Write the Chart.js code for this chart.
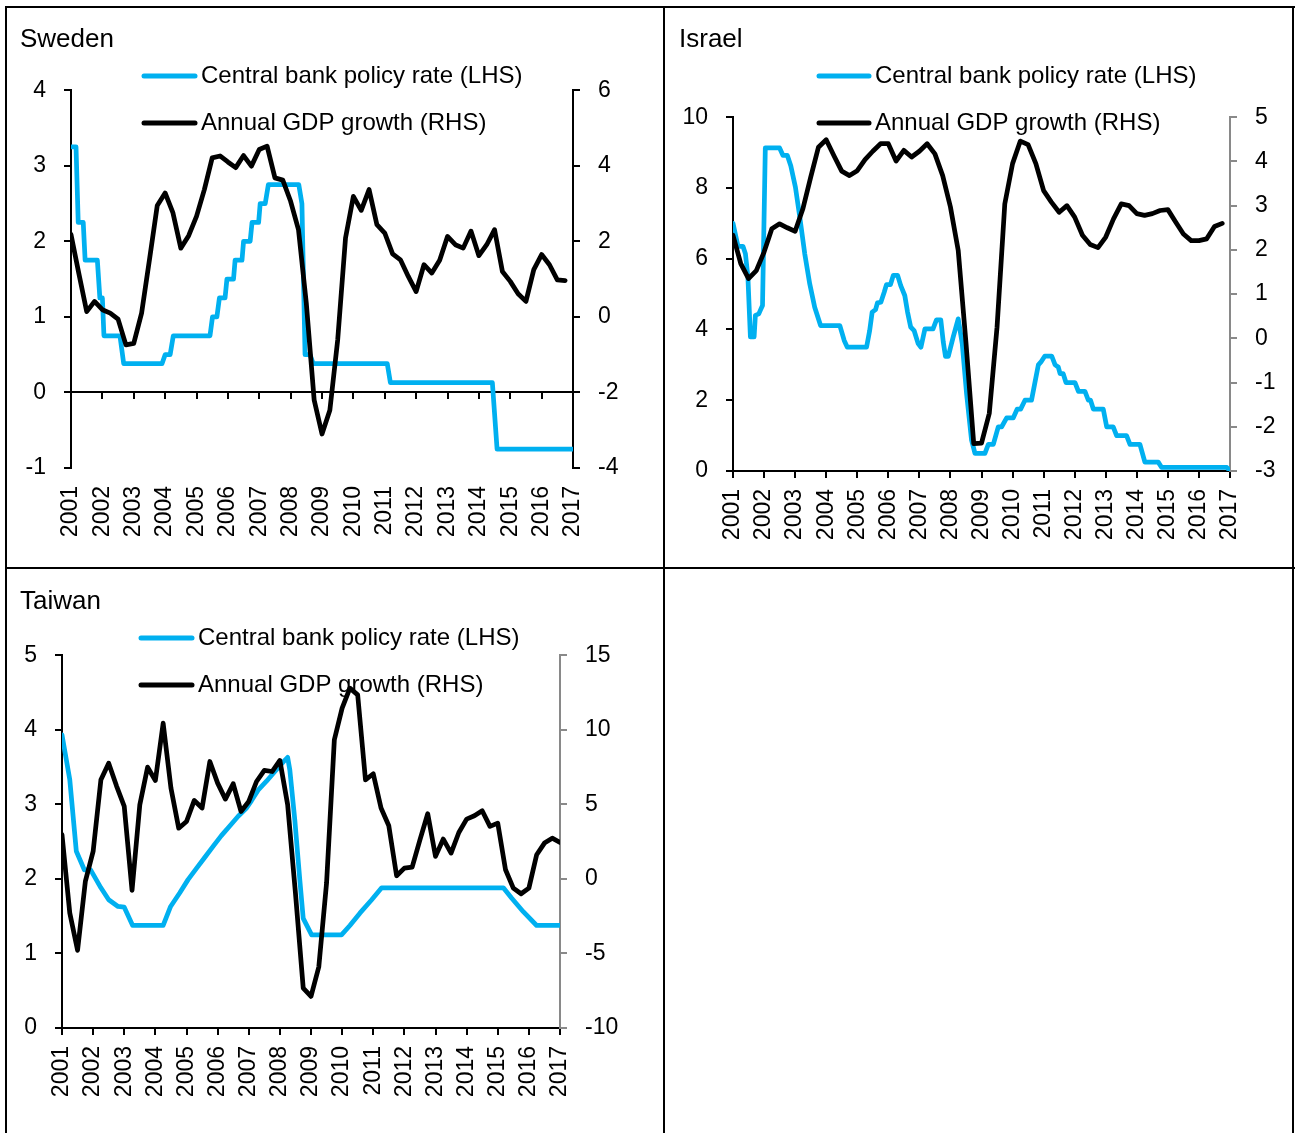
<!DOCTYPE html>
<html>
<head>
<meta charset="utf-8">
<script src="https://cdn.jsdelivr.net/npm/chart.js@4/dist/chart.umd.min.js"></script>
<style>
  body { margin: 0; background: #fff; width: 1295px; height: 1133px; overflow: hidden; position: relative; }
  .ln { position: absolute; background: #000; }
  canvas { position: absolute; }
</style>
</head>
<body>
<div class="ln" style="left:5px;top:6px;width:1290px;height:2px"></div>
<div class="ln" style="left:5px;top:6px;width:2px;height:1127px"></div>
<div class="ln" style="left:663px;top:6px;width:2px;height:1127px"></div>
<div class="ln" style="left:1292px;top:6px;width:2px;height:1127px"></div>
<div class="ln" style="left:5px;top:567px;width:1290px;height:2px"></div>

<canvas id="sweden" width="656" height="559" style="left:7px;top:8px"></canvas>
<canvas id="israel" width="627" height="559" style="left:665px;top:8px"></canvas>
<canvas id="taiwan" width="656" height="564" style="left:7px;top:569px"></canvas>

<script>
const FONT = '"Liberation Sans", Arial, sans-serif';
const BLUE = '#00b0f0';

const seriesNames = ['Central bank policy rate (LHS)', 'Annual GDP growth (RHS)'];

// Sweden - policy rate (break points) and quarterly GDP growth from 2001Q1
const seRateT = [2001.0, 2001.16, 2001.23, 2001.39, 2001.45, 2001.84, 2001.92, 2002.0, 2002.05, 2002.56,
  2002.68, 2003.9, 2004.0, 2004.16, 2004.26, 2005.43, 2005.51, 2005.65, 2005.73, 2005.91,
  2005.97, 2006.18, 2006.23, 2006.45, 2006.5, 2006.71, 2006.77, 2006.98, 2007.03, 2007.19,
  2007.29, 2008.26, 2008.36, 2008.46, 2008.62, 2008.72, 2011.08, 2011.18, 2014.43, 2014.58, 2017.0];
const seRateV = [3.25, 3.25, 2.25, 2.25, 1.75, 1.75, 1.25, 1.25, 0.75, 0.75,
  0.38, 0.38, 0.5, 0.5, 0.75, 0.75, 1.0, 1.0, 1.25, 1.25,
  1.5, 1.5, 1.75, 1.75, 2.0, 2.0, 2.25, 2.25, 2.5, 2.5,
  2.75, 2.75, 2.5, 0.5, 0.5, 0.38, 0.38, 0.13, 0.13, -0.75, -0.75];
const seGdp = [2.18, 1.15, 0.14, 0.41, 0.19, 0.10, -0.06, -0.74,
  -0.70, 0.10, 1.51, 2.95, 3.28, 2.75, 1.82, 2.15,
  2.66, 3.37, 4.21, 4.26, 4.10, 3.95, 4.27, 3.99,
  4.43, 4.52, 3.68, 3.62, 3.06, 2.31, 0.36, -2.2,
  -3.1, -2.47, -0.61, 2.09, 3.19, 2.82, 3.37, 2.44,
  2.22, 1.67, 1.51, 1.07, 0.67, 1.38, 1.16, 1.50,
  2.13, 1.91, 1.82, 2.27, 1.62, 1.91, 2.31, 1.20,
  0.94, 0.61, 0.41, 1.25, 1.65, 1.38, 0.98, 0.96];

// Israel
const ilRateT = [2001.0, 2001.16, 2001.32, 2001.40, 2001.48, 2001.56, 2001.68, 2001.72, 2001.83, 2001.89,
  2001.95, 2002.04, 2002.5, 2002.61, 2002.75, 2002.86, 2003.01, 2003.15, 2003.31, 2003.47,
  2003.63, 2003.82, 2004.44, 2004.58, 2004.68, 2005.30, 2005.40, 2005.48, 2005.59, 2005.65,
  2005.76, 2005.87, 2005.94, 2006.07, 2006.16, 2006.30, 2006.40, 2006.53, 2006.62, 2006.72,
  2006.83, 2006.96, 2007.05, 2007.18, 2007.44, 2007.55, 2007.69, 2007.77, 2007.84, 2007.93,
  2008.09, 2008.25, 2008.38, 2008.52, 2008.68, 2008.79, 2009.11, 2009.22, 2009.38, 2009.54,
  2009.65, 2009.81, 2010.02, 2010.15, 2010.26, 2010.40, 2010.61, 2010.72, 2010.83, 2010.93,
  2011.04, 2011.26, 2011.37, 2011.47, 2011.53, 2011.63, 2011.72, 2012.01, 2012.12, 2012.33,
  2012.44, 2012.51, 2012.6, 2012.92, 2013.03, 2013.24, 2013.35, 2013.67, 2013.78, 2014.1,
  2014.26, 2014.69, 2014.8, 2016.9, 2017.0];
const ilRateV = [7.0, 6.35, 6.35, 6.14, 5.48, 3.79, 3.79, 4.4, 4.44, 4.56,
  4.68, 9.13, 9.13, 8.92, 8.92, 8.63, 8.02, 7.18, 6.14, 5.29,
  4.63, 4.11, 4.11, 3.69, 3.5, 3.5, 3.97, 4.49, 4.56, 4.75,
  4.77, 5.06, 5.27, 5.27, 5.53, 5.53, 5.24, 4.96, 4.49, 4.07,
  3.97, 3.6, 3.5, 4.02, 4.02, 4.27, 4.27, 3.64, 3.24, 3.24,
  3.79, 4.3, 3.6, 2.18, 0.87, 0.5, 0.5, 0.75, 0.75, 1.25,
  1.25, 1.5, 1.5, 1.75, 1.75, 2.0, 2.0, 2.5, 3.0, 3.1,
  3.25, 3.25, 3.0, 2.94, 2.75, 2.75, 2.5, 2.5, 2.25, 2.25,
  2.0, 2.0, 1.75, 1.75, 1.25, 1.25, 1.0, 1.0, 0.75, 0.75,
  0.25, 0.25, 0.1, 0.1, 0.0];
const ilGdp = [2.33, 1.69, 1.35, 1.53, 1.95, 2.48, 2.59, 2.50,
  2.42, 2.93, 3.64, 4.32, 4.49, 4.13, 3.78, 3.68,
  3.79, 4.04, 4.23, 4.40, 4.40, 4.01, 4.25, 4.10,
  4.23, 4.40, 4.17, 3.68, 2.97, 1.99, -0.1, -2.38,
  -2.37, -1.70, 0.25, 3.04, 3.95, 4.46, 4.38, 3.95,
  3.34, 3.08, 2.85, 3.0, 2.74, 2.33, 2.12, 2.05,
  2.29, 2.70, 3.04, 3.0, 2.82, 2.78, 2.82, 2.89,
  2.91, 2.63, 2.36, 2.21, 2.21, 2.25, 2.53, 2.60];

// Taiwan
const twRateT = [2001.0, 2001.25, 2001.46, 2001.72, 2001.92, 2002.25, 2002.5, 2002.8, 2003.0, 2003.27,
  2004.25, 2004.49, 2004.78, 2005.05, 2005.32, 2005.59, 2005.86, 2006.12, 2006.39, 2006.66,
  2006.93, 2007.09, 2007.3, 2007.57, 2007.84, 2008.11, 2008.25, 2008.32, 2008.48, 2008.64,
  2008.75, 2009.02, 2009.98, 2010.25, 2010.57, 2010.95, 2011.27, 2015.18, 2015.45, 2015.82,
  2016.25, 2017.0];
const twRateV = [3.93, 3.33, 2.37, 2.12, 2.12, 1.88, 1.72, 1.63, 1.62, 1.375,
  1.375, 1.63, 1.81, 1.99, 2.14, 2.29, 2.44, 2.58, 2.71, 2.84,
  2.95, 3.05, 3.19, 3.31, 3.44, 3.57, 3.63, 3.46, 2.79, 1.99,
  1.47, 1.25, 1.25, 1.375, 1.54, 1.72, 1.88, 1.88, 1.74, 1.56,
  1.375, 1.375];
const twGdp = [2.96, -2.29, -4.79, -0.17, 1.84, 6.64, 7.76, 6.24,
  4.86, -0.77, 4.97, 7.49, 6.6, 10.44, 6.09, 3.40,
  3.85, 5.26, 4.75, 7.87, 6.42, 5.35, 6.38, 4.52,
  5.19, 6.53, 7.27, 7.2, 7.94, 4.97, -0.95, -7.32,
  -7.88, -5.91, -0.28, 9.33, 11.45, 12.79, 12.34, 6.64,
  7.05, 4.75, 3.56, 0.21, 0.72, 0.79, 2.62, 4.37,
  1.51, 2.67, 1.73, 3.11, 4.01, 4.23, 4.57, 3.52,
  3.74, 0.61, -0.62, -1.0, -0.62, 1.62, 2.40, 2.73,
  2.44];

Chart.defaults.color = '#000';
Chart.defaults.font.family = FONT;

// x-axis crossing at zero (Sweden only)
const zeroAxis = {
  id: 'zeroAxis',
  beforeDatasetsDraw(chart, args, opts) {
    if (!opts.show) return;
    const { ctx, chartArea, scales } = chart;
    const y0 = Math.round(scales.y.getPixelForValue(0));
    ctx.save();
    ctx.strokeStyle = '#000';
    ctx.lineWidth = 2;
    ctx.beginPath();
    ctx.moveTo(chartArea.left, y0);
    ctx.lineTo(chartArea.right, y0);
    scales.x.ticks.forEach(t => {
      const px = Math.round(scales.x.getPixelForValue(t.value));
      ctx.moveTo(px, y0);
      ctx.lineTo(px, y0 + 7);
    });
    ctx.stroke();
    ctx.restore();
  }
};

// legend drawn over the plot, as in the original
const seriesKey = {
  id: 'seriesKey',
  afterDatasetsDraw(chart, args, opts) {
    const ctx = chart.ctx;
    ctx.save();
    ctx.font = '24px ' + FONT;
    ctx.textBaseline = 'middle';
    chart.data.datasets.forEach((ds, i) => {
      const y = opts.rows[i];
      ctx.strokeStyle = ds.borderColor;
      ctx.lineWidth = 5;
      ctx.lineCap = 'round';
      ctx.beginPath();
      ctx.moveTo(opts.x0 + 2, y);
      ctx.lineTo(opts.x1 - 2, y);
      ctx.stroke();
      ctx.fillStyle = '#000';
      ctx.fillText(ds.label, opts.tx, y);
    });
    ctx.restore();
  }
};

function makeChart(id, c) {
  const rate = c.rateT.map((t, i) => ({ x: t, y: c.rateV[i] }));
  const gdp = c.gdp.map((v, i) => ({ x: 2001 + i * 0.25, y: v }));
  const tickFont = { size: 23, family: FONT };

  return new Chart(document.getElementById(id), {
    type: 'line',
    data: {
      datasets: [
        { label: seriesNames[0], data: rate, borderColor: BLUE, borderWidth: 4.75, yAxisID: 'y', order: 2 },
        { label: seriesNames[1], data: gdp, borderColor: '#000', borderWidth: 4.75, yAxisID: 'y2', order: 1 }
      ]
    },
    options: {
      responsive: false,
      animation: false,
      events: [],
      layout: { padding: { left: c.padLeft, top: 0, right: 0, bottom: 0 } },
      elements: {
        point: { radius: 0 },
        line: { tension: 0, borderJoinStyle: 'round', borderCapStyle: 'round' }
      },
      plugins: {
        legend: { display: false },
        tooltip: { enabled: false },
        title: {
          display: true, text: c.title, align: 'start', color: '#000',
          font: { size: 26, weight: 'normal', family: FONT, lineHeight: 1.2 },
          padding: { top: c.titleTop, bottom: c.titleBottom }
        },
        zeroAxis: { show: c.zeroAxis },
        seriesKey: c.key
      },
      scales: {
        x: {
          type: 'linear', min: 2001, max: 2017,
          afterFit: s => { s.height = c.xh; },
          ticks: {
            stepSize: 1, autoSkip: false, minRotation: 90, maxRotation: 90,
            padding: 11, font: tickFont, callback: v => String(v)
          },
          grid: { display: !c.zeroAxis, drawOnChartArea: false, tickLength: 7, lineWidth: 2, color: '#000' },
          border: { display: !c.zeroAxis, color: '#000', width: 2 }
        },
        y: {
          position: 'left', min: c.yMin, max: c.yMax,
          afterFit: s => { s.width = c.yw; },
          ticks: { stepSize: c.yStep, padding: 18, font: tickFont },
          grid: { drawOnChartArea: false, tickLength: 7, lineWidth: 2, color: '#000' },
          border: { color: '#000', width: 2 }
        },
        y2: {
          position: 'right', min: c.y2Min, max: c.y2Max,
          afterFit: s => { s.width = c.y2w; },
          ticks: { stepSize: c.y2Step, padding: 18, font: tickFont },
          grid: { drawOnChartArea: false, tickLength: 7, lineWidth: 2, color: c.rightColor },
          border: { color: c.rightColor, width: 2 }
        }
      }
    },
    plugins: [zeroAxis, seriesKey]
  });
}

makeChart('sweden', {
  title: 'Sweden', rateT: seRateT, rateV: seRateV, gdp: seGdp,
  padLeft: 13, yw: 51, y2w: 90, xh: 99, titleTop: 16, titleBottom: 35,
  yMin: -1, yMax: 4, yStep: 1, y2Min: -4, y2Max: 6, y2Step: 2,
  rightColor: '#000', zeroAxis: true,
  key: { x0: 135, x1: 190, tx: 194, rows: [68, 115] }
});

makeChart('israel', {
  title: 'Israel', rateT: ilRateT, rateV: ilRateV, gdp: ilGdp,
  padLeft: 14, yw: 54, y2w: 62, xh: 96, titleTop: 16, titleBottom: 62,
  yMin: 0, yMax: 10, yStep: 2, y2Min: -3, y2Max: 5, y2Step: 1,
  rightColor: '#898989', zeroAxis: false,
  key: { x0: 152, x1: 206, tx: 210, rows: [68, 115] }
});

makeChart('taiwan', {
  title: 'Taiwan', rateT: twRateT, rateV: twRateV, gdp: twGdp,
  padLeft: 13, yw: 42, y2w: 103, xh: 105, titleTop: 17, titleBottom: 38,
  yMin: 0, yMax: 5, yStep: 1, y2Min: -10, y2Max: 15, y2Step: 5,
  rightColor: '#898989', zeroAxis: false,
  key: { x0: 132, x1: 187, tx: 191, rows: [69, 116] }
});
</script>
</body>
</html>
